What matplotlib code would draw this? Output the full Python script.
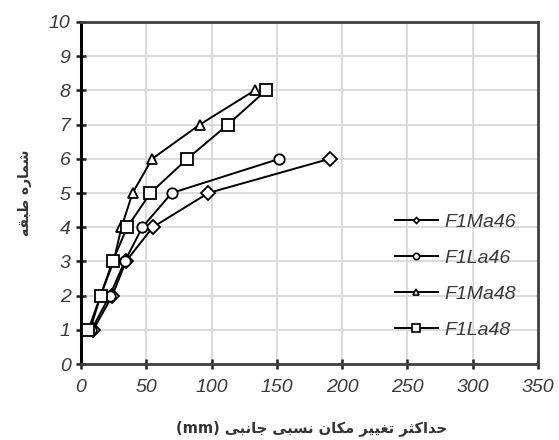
import matplotlib
matplotlib.use("Agg")
import matplotlib.pyplot as plt
from matplotlib.lines import Line2D

floors = [1, 2, 3, 4, 5, 6, 7, 8]

ma46_drift = [9.4, 24, 34.4, 55, 97.5, 190.5]
la46_drift = [8, 22, 33.5, 47, 69.5, 152]
ma48_drift = [7, 15, 25, 31, 39.5, 54.5, 91, 133]
la48_drift = [5.6, 15, 24.2, 35.4, 53.2, 81.4, 112.5, 141.7]

labels = ["F1Ma46", "F1La46", "F1Ma48", "F1La48"]
markers = ["D", "o", "^", "s"]
msizes = [7.5, 7.5, 7.5, 8.5]
legend_msizes = [3, 4.5, 4, 5.5]

x_ticks = [0, 50, 100, 150, 200, 250, 300, 350]
y_ticks = list(range(0, 11))

# Persian labels written with Arabic presentation forms (visual order)
ylabel_txt = "\uFEEA\uFED8\uFE92\uFEC3 \uFEE9\uFEAD\uFE8E\uFEE4\uFEB7"
xlabel_txt = ("(mm) "
              "\uFEF0\uFE92\uFEE7\uFE8E\uFE9F "
              "\uFEF0\uFE92\uFEB4\uFEE7 "
              "\uFEE5\uFE8E\uFEDC\uFEE3 "
              "\uFEAE\uFEF4\uFEF4\uFED0\uFE97 "
              "\uFEAE\uFE9C\uFEDB\uFE8D\uFEAA\uFEA3")

fig = plt.figure(figsize=(5.59, 4.40), dpi=100)
ax = fig.add_axes([81/559, 1-364/440, (538-81)/559, (364-22)/440])

series = [ma46_drift, la46_drift, ma48_drift, la48_drift]
for xs, lab, mk, ms in zip(series, labels, markers, msizes):
    ax.plot(xs, floors[:len(xs)], color="black", lw=1.4, marker=mk, ms=ms,
            mfc="white", mec="black", mew=1.3, label=lab, zorder=3)

ax.set_xlim(0, 350)
ax.set_ylim(0, 10)
ax.set_xticks(x_ticks)
ax.set_yticks(y_ticks)
ax.grid(True, color="#d9d9d9", lw=1.3, zorder=0)
ax.set_axisbelow(True)

for side in ["top", "right", "bottom"]:
    ax.spines[side].set_color("#404040")
    ax.spines[side].set_linewidth(2)
ax.spines["left"].set_color("black")
ax.spines["left"].set_linewidth(2.2)

ax.tick_params(axis="both", direction="inout", length=7, width=1.8, color="#202020",
               labelsize=14, labelcolor="#3a3a3a")
ax.tick_params(axis="x", pad=7)
ax.tick_params(axis="y", pad=4)
for lbl in ax.get_xticklabels() + ax.get_yticklabels():
    lbl.set_fontfamily("Liberation Sans")
    lbl.set_fontstyle("italic")

fig.text(25/559, 1-193/440, ylabel_txt, rotation=90, ha="center", va="center",
         fontsize=10, fontweight="bold", family=["DejaVu Sans"], color="#333333")
fig.text(312/559, 1-428/440, xlabel_txt, ha="center", va="center",
         fontsize=10.5, fontweight="bold", family=["DejaVu Sans"], color="#333333")

handles = [Line2D([], [], color="black", lw=1.4, marker=mk, ms=ms, mfc="white",
                  mec="black", mew=1.2)
           for mk, ms in zip(markers, legend_msizes)]
leg = fig.legend(handles, labels, loc="upper left",
                 bbox_to_anchor=(395/559, 1-213/440), bbox_transform=fig.transFigure,
                 frameon=False, borderpad=0, borderaxespad=0, handlelength=2.2,
                 handletextpad=0.35, labelspacing=0.95,
                 prop={"family": "Liberation Sans", "style": "italic", "size": 14})
for t in leg.get_texts():
    t.set_color("#3a3a3a")

fig.savefig("out.png", dpi=100)
